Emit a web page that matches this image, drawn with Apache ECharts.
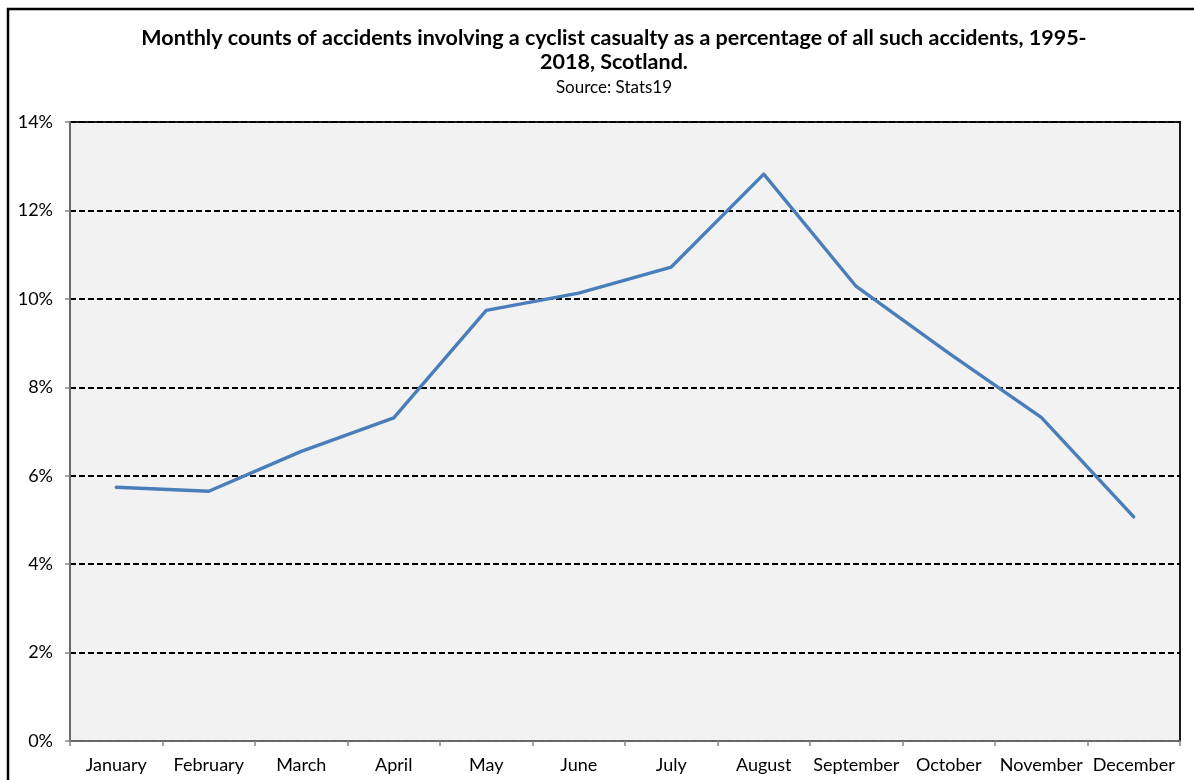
<!DOCTYPE html>
<html>
<head>
<meta charset="utf-8">
<style>
  html, body { margin: 0; padding: 0; background: #ffffff; }
  #chart { width: 1194px; height: 780px; }
</style>
<script src="https://cdn.jsdelivr.net/npm/echarts@6/dist/echarts.min.js"></script>
</head>
<body>
<div id="chart"></div>
<script>
// Months on the category axis
const months = ['January', 'February', 'March', 'April', 'May', 'June',
  'July', 'August', 'September', 'October', 'November', 'December'];

// Cyclist-casualty accidents as a share of all such accidents (%)
const cyclistShare = [5.74, 5.65, 6.55, 7.31, 9.74, 10.13, 10.72, 12.82, 10.28, 8.77, 7.32, 5.07];

// Value-axis range and step (%)
const yMin = 0, yMax = 14, yStep = 2;

const FONT = 'Lato, "Liberation Sans", "Noto Sans", sans-serif';

const chart = echarts.init(document.getElementById('chart'), null, { renderer: 'canvas' });

chart.setOption({
  backgroundColor: '#ffffff',
  animation: false,
  title: {
    text: 'Monthly counts of accidents involving a cyclist casualty as a percentage of all such accidents, 1995-\n2018, Scotland.',
    subtext: 'Source: Stats19',
    left: 609,
    top: 21,
    textAlign: 'center',
    itemGap: 4,
    textStyle: {
      fontFamily: FONT, fontWeight: 'bold', fontSize: 21.5, color: '#000000', lineHeight: 24
    },
    subtextStyle: {
      fontFamily: FONT, fontSize: 17, color: '#000000', lineHeight: 20
    }
  },
  graphic: [{
    type: 'rect',
    shape: { x: 8, y: 9, width: 1240, height: 820 },
    style: { fill: null, stroke: '#000000', lineWidth: 2.5 },
    silent: true,
    z: 100
  }],
  grid: {
    left: 70, right: 14, top: 122, bottom: 39,
    show: true,
    backgroundColor: '#f2f2f2',
    borderColor: '#1a1a1a',
    borderWidth: 2
  },
  xAxis: {
    type: 'category',
    data: months,
    boundaryGap: true,
    axisLine: { lineStyle: { color: '#868686', width: 1.5 } },
    axisTick: { show: true, length: 5, lineStyle: { color: '#868686', width: 1.5 } },
    axisLabel: { fontFamily: FONT, fontSize: 18, color: '#000000', margin: 15, interval: 0 },
    splitLine: { show: false }
  },
  yAxis: {
    type: 'value',
    min: yMin, max: yMax, interval: yStep,
    axisLine: { show: true, lineStyle: { color: '#868686', width: 1.5 } },
    axisTick: { show: true, length: 5, lineStyle: { color: '#868686', width: 1.5 } },
    axisLabel: {
      fontFamily: FONT, fontSize: 18, color: '#000000', margin: 17,
      formatter: v => v + '%'
    },
    splitLine: {
      show: true,
      lineStyle: { color: '#000000', width: 2, type: [6, 3] }
    }
  },
  series: [{
    type: 'line',
    data: cyclistShare,
    symbol: 'none',
    lineStyle: { color: '#4a7ebb', width: 3.4, join: 'round', cap: 'round' },
    z: 5
  }]
});
</script>
</body>
</html>
